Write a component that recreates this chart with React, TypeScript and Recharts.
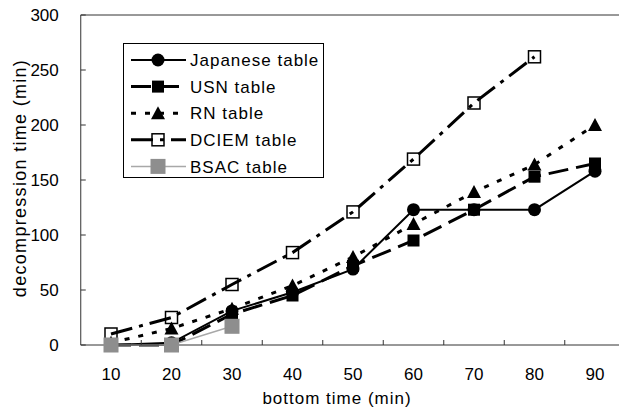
import { LineChart, Line, XAxis, YAxis, Legend, ReferenceLine } from "recharts"

const times = [10, 20, 30, 40, 50, 60, 70, 80, 90]
const japanese = [0, 2, 31, 48, 69, 123, 123, 123, 158]
const usn = [0, 0, 28, 45, 72, 95, 123, 153, 165]
const rn = [2, 15, 33, 54, 80, 110, 139, 164, 200]
const dciem = [10, 25, 55, 84, 121, 169, 220, 262, null]
const bsac = [0, 0, 17, null, null, null, null, null, null]
const yTicks = [0, 50, 100, 150, 200, 250, 300]

const FONT = '"Liberation Sans", Arial, sans-serif'
const HALF_BAND = 30.25

const data = times.map((t, i) => ({
  time: t,
  japanese: japanese[i],
  usn: usn[i],
  rn: rn[i],
  dciem: dciem[i],
  bsac: bsac[i],
}))

type Kind = "circle" | "square" | "triangle" | "open" | "grey"

const series: { key: string; name: string; kind: Kind; stroke: string; width: number; dash?: string }[] = [
  { key: "dciem", name: "DCIEM table", kind: "open", stroke: "#000", width: 3, dash: "22 7 4 7" },
  { key: "rn", name: "RN table", kind: "triangle", stroke: "#000", width: 3, dash: "5 9" },
  { key: "usn", name: "USN table", kind: "square", stroke: "#000", width: 3, dash: "20 8" },
  { key: "japanese", name: "Japanese table", kind: "circle", stroke: "#000", width: 2 },
  { key: "bsac", name: "BSAC table", kind: "grey", stroke: "#a8a8a8", width: 1.5 },
]

const legendOrder = ["japanese", "usn", "rn", "dciem", "bsac"]

function marker(kind: Kind, cx: number, cy: number, key?: string) {
  switch (kind) {
    case "circle":
      return <circle key={key} cx={cx} cy={cy} r={6.5} fill="#000" />
    case "square":
      return <rect key={key} x={cx - 6} y={cy - 6} width={12} height={12} fill="#000" />
    case "triangle":
      return (
        <polygon key={key} points={`${cx},${cy - 7} ${cx + 7},${cy + 6} ${cx - 7},${cy + 6}`} fill="#000" />
      )
    case "open":
      return (
        <rect key={key} x={cx - 6} y={cy - 6} width={12} height={12} fill="none" stroke="#000" strokeWidth={1.5} />
      )
    default:
      return <rect key={key} x={cx - 7.5} y={cy - 7.5} width={15} height={15} fill="#8e8e8e" />
  }
}

function dotFor(kind: Kind, name: string) {
  return (props: any) => {
    const { cx, cy, index, value } = props
    if (cx == null || cy == null || value == null) return <g key={`${name}-${index}`} />
    return marker(kind, cx, cy, `${name}-${index}`)
  }
}

function XTick(props: any) {
  const { x, y, payload, index } = props
  const axisY = y - 12
  return (
    <g>
      {index > 0 && <line x1={x - HALF_BAND} x2={x - HALF_BAND} y1={axisY} y2={axisY - 5} stroke="#333" />}
      <text x={x} y={axisY + 35} textAnchor="middle" fontSize={17} fontFamily={FONT} fill="#000">
        {payload.value}
      </text>
    </g>
  )
}

function YTick(props: any) {
  const { x, y, payload } = props
  const axisX = x + 22
  return (
    <g>
      <line x1={axisX} x2={axisX + 5} y1={y} y2={y} stroke="#333" />
      <text x={x} y={y} dy="0.36em" textAnchor="end" fontSize={17} fontFamily={FONT} fill="#000">
        {payload.value}
      </text>
    </g>
  )
}

function LegendBox() {
  return (
    <svg width={201} height={135} style={{ display: "block" }}>
      <rect x={0.5} y={0.5} width={200} height={134} fill="#fff" stroke="#000" />
      {legendOrder.map((k, i) => {
        const s = series.find((d) => d.key === k)!
        const y = 17 + i * 26.6
        return (
          <g key={k}>
            <line x1={8} x2={63} y1={y} y2={y} stroke={s.stroke} strokeWidth={s.width} strokeDasharray={s.dash} />
            {marker(s.kind, 35, y)}
            <text x={67} y={y} dy="0.36em" fontSize={17} letterSpacing={1} fontFamily={FONT} fill="#000">
              {s.name}
            </text>
          </g>
        )
      })}
    </svg>
  )
}

export default function App() {
  return (
    <div style={{ position: "absolute", left: 0, top: 0, width: 619, height: 414, overflow: "hidden", background: "#fff" }}>
      <LineChart width={640} height={414} data={data} margin={{ top: 15, right: 14.75, bottom: 0, left: 0 }}>
        <XAxis
          dataKey="time"
          height={69}
          padding={{ left: HALF_BAND, right: HALF_BAND }}
          tickSize={0}
          tickMargin={12}
          tick={<XTick />}
          interval={0}
          axisLine={{ stroke: "#333" }}
          label={{
            content: () => (
              <text x={337} y={404} textAnchor="middle" fontSize={17} letterSpacing={1} fontFamily={FONT} fill="#000">
                bottom time (min)
              </text>
            ),
          }}
        />
        <YAxis
          width={80.75}
          domain={[0, 300]}
          ticks={yTicks}
          interval={0}
          tickSize={0}
          tickMargin={22}
          tick={<YTick />}
          axisLine={{ stroke: "#333" }}
          label={{
            content: () => (
              <text
                x={20}
                y={178}
                transform="rotate(-90 20 178)"
                textAnchor="middle"
                dy="0.36em"
                fontSize={18}
                letterSpacing={1.3}
                fontFamily={FONT}
                fill="#000"
              >
                decompression time (min)
              </text>
            ),
          }}
        />
        <ReferenceLine y={300} stroke="#333" />
        {series.map((s) => (
          <Line
            key={s.key}
            dataKey={s.key}
            name={s.name}
            type="linear"
            stroke={s.stroke}
            strokeWidth={s.width}
            strokeDasharray={s.dash}
            dot={dotFor(s.kind, s.key)}
            activeDot={false}
            isAnimationActive={false}
          />
        ))}
        <Legend
          layout="vertical"
          align="center"
          verticalAlign="middle"
          content={() => <LegendBox />}
          wrapperStyle={{ position: "absolute", left: 123, top: 43, width: 201, height: 135 }}
        />
      </LineChart>
    </div>
  )
}
